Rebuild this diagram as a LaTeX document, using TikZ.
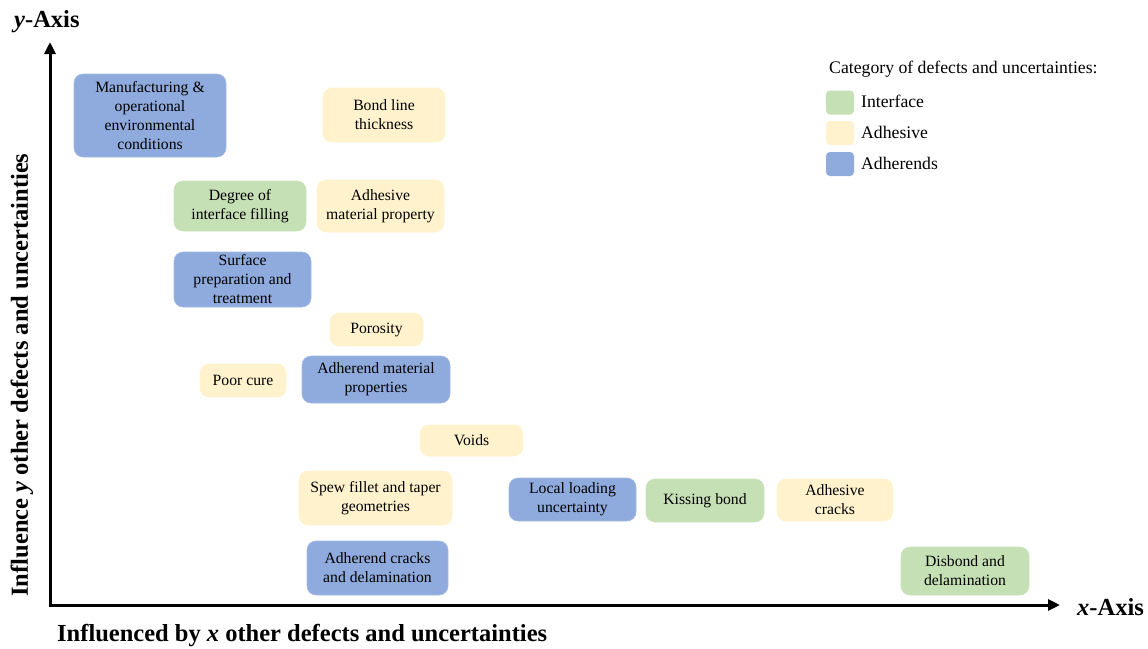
\documentclass[tikz,border=0pt]{standalone}
\usepackage{fontspec}
\setmainfont{Liberation Serif}
\usetikzlibrary{arrows.meta}
\definecolor{cblue}{HTML}{8FAADC}
\definecolor{cgreen}{HTML}{C5E0B4}
\definecolor{cyellow}{HTML}{FFF2CC}
\tikzset{
  box/.style={rounded corners=9pt, inner sep=0pt, align=center, font=\fontsize{15.7}{19}\selectfont},
  bluebox/.style={box, fill=cblue, draw=cblue!80!white, line width=0.6pt},
  greenbox/.style={box, fill=cgreen, draw=cgreen!90!white, line width=0.6pt},
  yellowbox/.style={box, fill=cyellow, draw=cyellow!95!white, line width=0.6pt},
  axis/.style={line width=3pt, -{Triangle[length=12pt,width=11pt]}},
  swatch/.style={rounded corners=4pt, minimum width=28pt, minimum height=24pt, inner sep=0pt},
  leg/.style={anchor=west, font=\fontsize{17.7}{20}\selectfont, inner sep=0pt},
  axlabel/.style={font=\fontsize{24.5}{28}\selectfont\bfseries, inner sep=0pt},
}
\newcommand{\bx}[6]{% style, name, x1, y1, x2, y2
  \node[#1, minimum width={#5-#3}, minimum height={#6-#4}] (#2) at ({(#3+#5)/2},{(#4+#6)/2})}
\begin{document}
\begin{tikzpicture}[x=1pt,y=-1pt]
\useasboundingbox (0,0) rectangle (1148,648);
% axes
\coordinate (O) at (50,605);
\coordinate (ytip) at (50,42);
\coordinate (xtip) at (1060,605);
\draw[axis] (O) -- (ytip);
\draw[axis] ([xshift=-1.5pt]O) -- (xtip);
\node[axlabel, anchor=west] (ylab) at (14,22) {\textit{y}-Axis};
\node[axlabel, anchor=west] (xlab) at (1077,607) {\textit{x}-Axis};
\node[axlabel, anchor=west] (xdesc) at (57,636) {Influenced by \textit{x} other defects and uncertainties};
\node[axlabel, rotate=90] (ydesc) at (22,375) {Influence \textit{y} other defects and uncertainties};
% boxes
\bx{bluebox}{manu}{74}{74}{226}{157}{Manufacturing \&\\operational\\environmental\\conditions};
\bx{yellowbox}{bond}{323}{88}{445}{142}{Bond line\\thickness};
\bx{greenbox}{degree}{174}{181}{306}{231}{Degree of\\interface filling};
\bx{yellowbox}{adhmat}{317}{180}{444}{232}{Adhesive\\material property};
\bx{bluebox}{surf}{174}{252}{311}{307}{Surface\\preparation and\\treatment};
\bx{yellowbox}{poro}{330}{313}{423}{346}{Porosity};
\bx{yellowbox}{poor}{200}{364}{286}{397}{Poor cure};
\bx{bluebox}{adhrmat}{302}{356}{450}{403}{Adherend material\\properties};
\bx{yellowbox}{voids}{420}{425}{523}{456}{Voids};
\bx{yellowbox}{spew}{299}{471}{452}{525}{Spew fillet and taper\\geometries};
\bx{bluebox}{local}{509}{478}{636}{521}{Local loading\\uncertainty};
\bx{greenbox}{kiss}{646}{479}{764}{522}{Kissing bond};
\bx{yellowbox}{adhcr}{777}{479}{893}{521}{Adhesive\\cracks};
\bx{bluebox}{adhrcr}{307}{541}{448}{595}{Adherend cracks\\and delamination};
\bx{greenbox}{disb}{901}{547}{1029}{595}{Disbond and\\delamination};
% legend
\node[leg] (legt) at (829,69) {Category of defects and uncertainties:};
\node[swatch, fill=cgreen] (sw1) at (840,102.5) {};
\node[swatch, fill=cyellow] (sw2) at (840,133) {};
\node[swatch, fill=cblue] (sw3) at (840,164) {};
\node[leg] (l1) at (861,101) {Interface};
\node[leg] (l2) at (861,132) {Adhesive};
\node[leg] (l3) at (861,163) {Adherends};
\end{tikzpicture}
\end{document}
